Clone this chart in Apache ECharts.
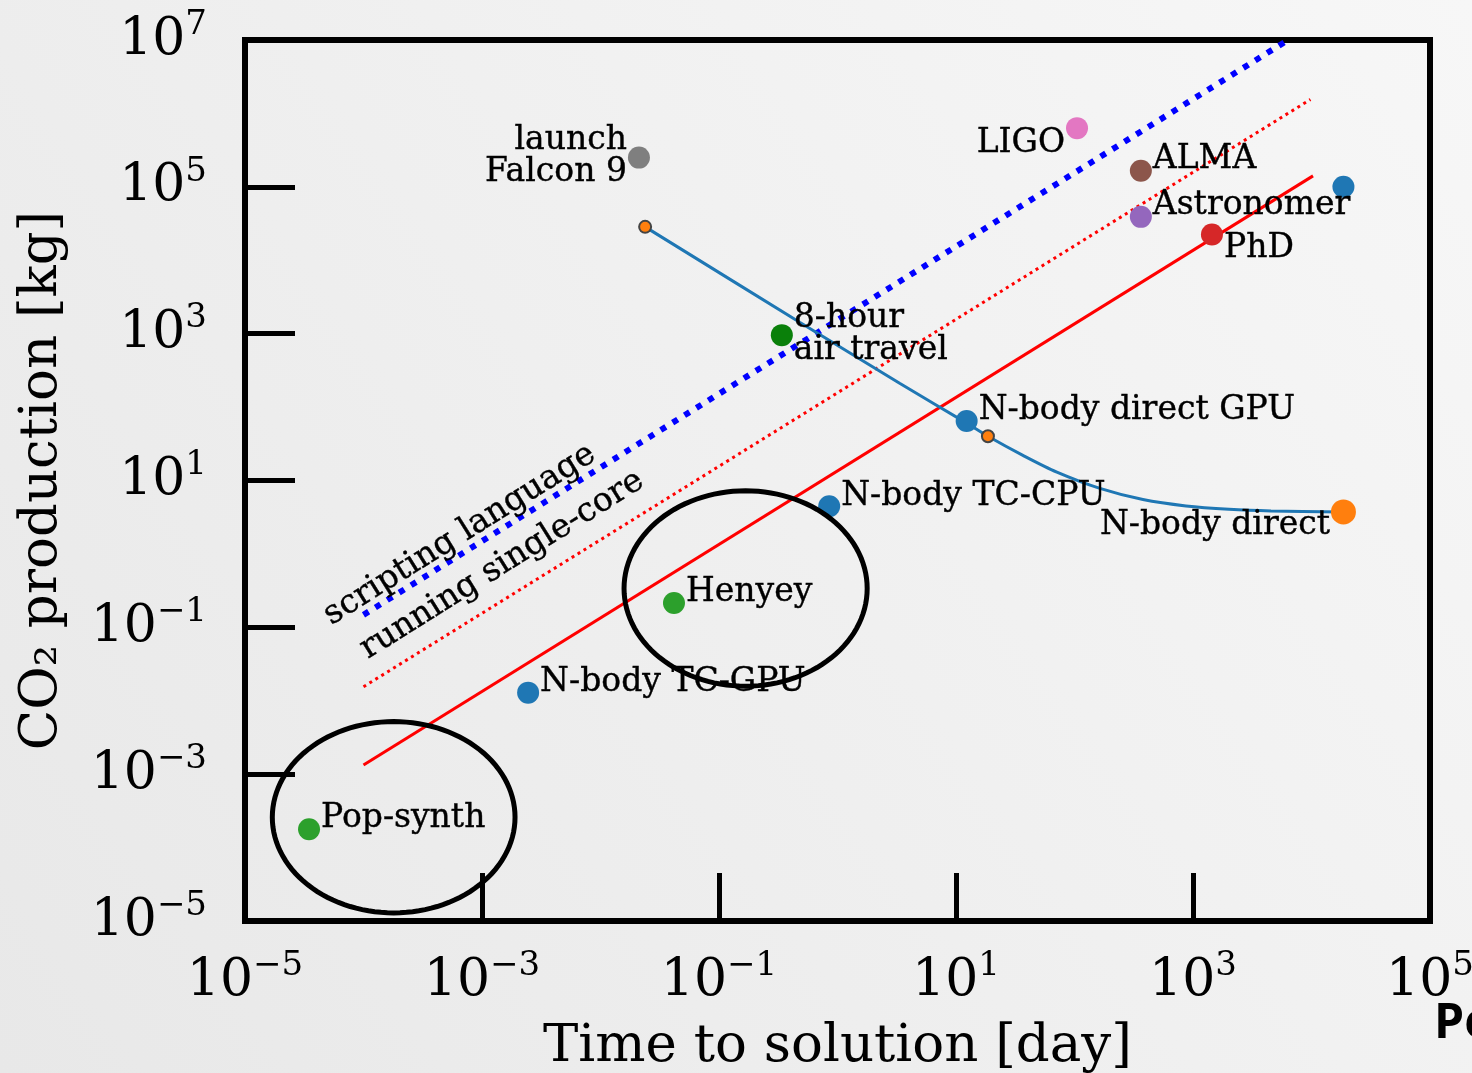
<!DOCTYPE html>
<html><head><meta charset="utf-8">
<script src="https://cdn.jsdelivr.net/npm/echarts@6/dist/echarts.min.js"></script>
<style>html,body{margin:0;padding:0;background:#efefef}#c{width:1472px;height:1073px}</style>
</head><body><div id="c"></div><script>
// ---- data ----
const pointNames = ['Pop-synth','N-body TC-GPU','Henyey','N-body TC-CPU','8-hour\nair travel','launch\nFalcon 9','N-body direct GPU','LIGO','ALMA','Astronomer','PhD','','N-body direct'];
const pointTime  = [3.47e-5, 2.45e-3, 0.0417, 0.851, 0.339, 0.0211, 12.3, 105, 363, 363, 1445, 1.86e4, 1.86e4];
const pointCO2   = [1.78e-4, 0.0129, 0.214, 4.47, 955, 2.5e5, 64.6, 6.3e5, 1.66e5, 3.9e4, 2.24e4, 1.0e5, 3.73];

const curveTime = [0.0238, 0.483, 3.37, 12.4, 18.6, 36.7, 71, 164, 378, 873, 2014, 4550, 1.86e4];
const curveCO2  = [28500, 1420, 210, 60, 40, 22, 13, 7.8, 5.5, 4.5, 4.05, 3.85, 3.73];
const curveEndTime = [0.0238, 18.6];
const curveEndCO2  = [28500, 40];

const solidRedTime = [1e-4, 1.03e4];
const solidRedCO2  = [1.33e-3, 1.41e5];
const dotRedTime   = [1e-4, 9.8e3];
const dotRedCO2    = [0.0155, 1.55e6];
const dotBlueTime  = [1e-4, 5970];
const dotBlueCO2   = [0.148, 9.4e6];

const noteNames = ['scripting language', 'running single-core'];
const noteTime  = [6.5e-4, 1.48e-3];
const noteCO2   = [1.82, 0.708];

// ellipse annotations: [time1, co2_1, time2, co2_2] (bounding box corners)
const ringBoxes = [[0.0158, 7.24, 1.78, 0.0158], [1.7e-5, 5.2e-3, 1.9e-3, 1.29e-5]];

const xTicks = [1e-3, 1e-1, 1e1, 1e3];
const xTickLabels = [1e-5, 1e-3, 1e-1, 1e1, 1e3, 1e5];
const yTicks = [1e-3, 1e-1, 1e1, 1e3, 1e5];
const yTickLabels = [1e-5, 1e-3, 1e-1, 1e1, 1e3, 1e5, 1e7];

// ---- styles ----
const SERIF = 'DejaVu Serif';
const pointColors = {'Pop-synth':'#2ca02c','N-body TC-GPU':'#1f77b4','Henyey':'#2ca02c','N-body TC-CPU':'#1f77b4','8-hour\nair travel':'#0a800a','launch\nFalcon 9':'#7f7f7f','N-body direct GPU':'#1f77b4','LIGO':'#e377c2','ALMA':'#8c564b','Astronomer':'#9467bd','PhD':'#d62728','':'#1f77b4','N-body direct':'#ff7f0e'};
const labelPlace = {
  'Pop-synth': {position:'right', offset:[0,-11]},
  'N-body TC-GPU': {position:'right', offset:[0,-10]},
  'Henyey': {position:'right', offset:[0,-11]},
  'N-body TC-CPU': {position:'right', offset:[0,-10]},
  '8-hour\nair travel': {position:'right', offset:[0,-1]},
  'launch\nFalcon 9': {position:'left', offset:[0,-1], align:'right'},
  'N-body direct GPU': {position:'right', offset:[0,-11]},
  'LIGO': {position:'left', offset:[0,15]},
  'ALMA': {position:'right', offset:[0,-11]},
  'Astronomer': {position:'right', offset:[0,-11]},
  'PhD': {position:'right', offset:[0,14]},
  '': {position:'right'},
  'N-body direct': {position:'left', offset:[0,13]}
};

function powLabel(v){
  const e = Math.round(Math.log10(v));
  return '{b|10}{s|' + (e < 0 ? '\u2212' + (-e) : e) + '}';
}
const tickRich = {
  b: {fontFamily: SERIF, fontSize: 52, color: '#000'},
  s: {fontFamily: SERIF, fontSize: 34, color: '#000', padding: [0,0,30,0]}
};

const pointData = pointNames.map((n, i) => ({
  value: [pointTime[i], pointCO2[i]],
  name: n,
  symbolSize: n === 'N-body direct' ? 25 : 22,
  itemStyle: {color: pointColors[n], opacity: 1},
  label: Object.assign({show: n !== '', formatter: n, distance: 1}, labelPlace[n])
}));

const zip = (a, b) => a.map((v, i) => [v, b[i]]);
const labelFont = {fontFamily: SERIF, fontSize: 33, color: '#000', textBorderColor: '#000', textBorderWidth: 0.4, opacity: 1};

const chart = echarts.init(document.getElementById('c'), null, {renderer: 'canvas'});
chart.setOption({
  animation: false,
  backgroundColor: {type: 'linear', x: 1, y: 0, x2: 0, y2: 1, colorStops: [{offset: 0, color: '#f7f7f7'}, {offset: 1, color: '#e8e8e8'}]},
  grid: {left: 245, right: 42, top: 40, bottom: 152, show: true, borderColor: '#000', borderWidth: 6, backgroundColor: 'transparent', outerBoundsMode: 'none', containLabel: false},
  xAxis: {
    type: 'log', logBase: 10, min: 1e-5, max: 1e5,
    name: 'Time to solution [day]', nameLocation: 'middle', nameGap: 100,
    nameTextStyle: {fontFamily: SERIF, fontSize: 53, color: '#000'},
    axisLine: {show: false},
    splitLine: {show: false}, minorTick: {show: false},
    axisTick: {show: true, inside: true, length: 48, lineStyle: {color: '#000', width: 5}, customValues: xTicks},
    axisLabel: {show: true, margin: 28, formatter: powLabel, rich: tickRich, customValues: xTickLabels, showMinLabel: true, showMaxLabel: true}
  },
  yAxis: {
    type: 'log', logBase: 10, min: 1e-5, max: 1e7,
    name: 'CO\u2082 production [kg]', nameLocation: 'middle', nameGap: 176, nameRotate: 90,
    nameTextStyle: {fontFamily: SERIF, fontSize: 53, color: '#000'},
    axisLine: {show: false},
    splitLine: {show: false}, minorTick: {show: false},
    axisTick: {show: true, inside: true, length: 50, lineStyle: {color: '#000', width: 5}, customValues: yTicks},
    axisLabel: {show: true, margin: 38, formatter: powLabel, rich: tickRich, customValues: yTickLabels, showMinLabel: true, showMaxLabel: true}
  },
  series: [
    {type: 'line', data: zip(solidRedTime, solidRedCO2), symbol: 'none', lineStyle: {color: '#ff0000', width: 3}, z: 2},
    {type: 'line', data: zip(dotRedTime, dotRedCO2), symbol: 'none', lineStyle: {color: '#ff0000', width: 3, type: [3, 4]}, z: 2},
    {type: 'line', data: zip(dotBlueTime, dotBlueCO2), symbol: 'none', lineStyle: {color: '#0000ff', width: 6, type: [6, 8]}, z: 2},
    {type: 'line', data: zip(curveTime, curveCO2), symbol: 'none', smooth: 0.3, lineStyle: {color: '#1f77b4', width: 3}, z: 3},
    {type: 'scatter', data: zip(curveEndTime, curveEndCO2), symbolSize: 12, itemStyle: {color: '#ff7f0e', borderColor: '#444', borderWidth: 2, opacity: 1}, z: 4},
    {type: 'scatter', data: pointData, z: 5, label: Object.assign({lineHeight: 32}, labelFont)},
    {type: 'scatter', data: noteNames.map((n, i) => ({value: [noteTime[i], noteCO2[i]], name: n})), symbolSize: 1, z: 6,
      itemStyle: {opacity: 1, color: 'rgba(0,0,0,0)'},
      label: Object.assign({show: true, position: 'inside', rotate: 32, formatter: '{b}'}, labelFont)},
    {type: 'custom', data: ringBoxes, clip: false, z: 7,
      renderItem: function (params, api) {
        const p1 = api.coord([api.value(0), api.value(1)]);
        const p2 = api.coord([api.value(2), api.value(3)]);
        const cx = (p1[0] + p2[0]) / 2, cy = (p1[1] + p2[1]) / 2;
        const rx = Math.abs(p2[0] - p1[0]) / 2, ry = Math.abs(p2[1] - p1[1]) / 2;
        const pts = [];
        for (let k = 0; k < 120; k++) { const a = k / 120 * Math.PI * 2; pts.push([cx + rx * Math.cos(a), cy + ry * Math.sin(a)]); }
        return {type: 'polygon', shape: {points: pts}, style: {fill: 'none', stroke: '#000', lineWidth: 5}};
      }
    }
  ],
  graphic: [{type: 'text', left: 1434, top: 1000, style: {text: 'Pe', font: 'bold 48px "Open Sans"', fill: '#000'}}]
});
</script></body></html>
